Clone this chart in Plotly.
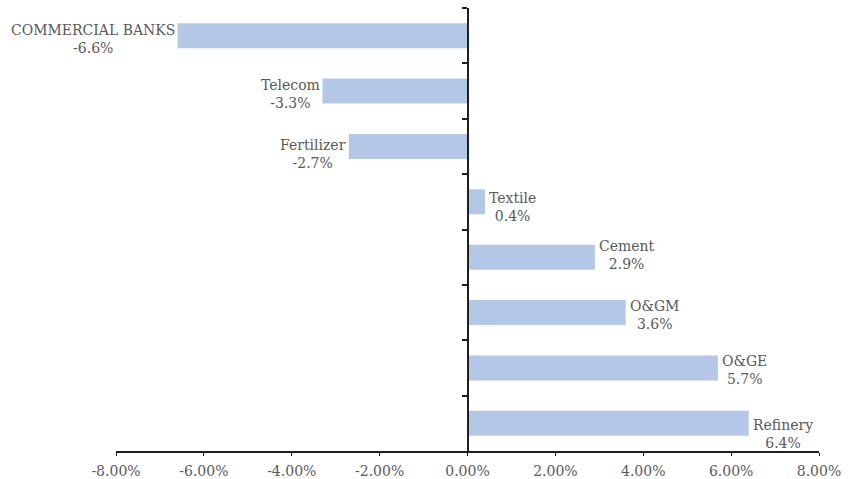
import plotly.graph_objects as go

# Sector returns (%)
sectors = ["COMMERCIAL BANKS", "Telecom", "Fertilizer", "Textile",
           "Cement", "O&GM", "O&GE", "Refinery"]
returns = [-6.6, -3.3, -2.7, 0.4, 2.9, 3.6, 5.7, 6.4]
x_ticks = [-8, -6, -4, -2, 0, 2, 4, 6, 8]
x_tick_labels = [f"{t:.2f}%" for t in x_ticks]

# Vertical nudge (px, downward) of each data label relative to its bar centre
label_nudge = [2, 1.5, 7, 4.5, -3, 1, 1.5, 9.5]

BAR = "#B4C7E7"
TXT = "#595959"
AX = "#1f1f1f"
FONT = "DejaVu Serif"

fig = go.Figure(go.Bar(
    x=returns,
    y=sectors,
    orientation="h",
    marker=dict(color=BAR, line=dict(width=0)),
    hoverinfo="skip",
))

# Two-line data labels just beyond each bar end
for s, v, dy in zip(sectors, returns, label_nudge):
    fig.add_annotation(
        x=v, y=s, xref="x", yref="y",
        text=f"{s}<br>{v:.1f}%",
        showarrow=False,
        xanchor="right" if v < 0 else "left",
        yanchor="middle",
        xshift=-1 if v < 0 else 2,
        yshift=-dy - 1,
        align="center",
        font=dict(family=FONT, size=14, color=TXT),
    )

fig.update_layout(
    width=850, height=479,
    margin=dict(l=116, r=31, t=8, b=28, autoexpand=False),
    paper_bgcolor="white",
    plot_bgcolor="white",
    bargap=0.55,
    showlegend=False,
    font=dict(family=FONT, size=14, color=TXT),
    xaxis=dict(
        range=[-8, 8],
        tickvals=x_ticks,
        ticktext=x_tick_labels,
        automargin=False,
        showgrid=False,
        zeroline=False,
        showline=True,
        linecolor=AX,
        linewidth=2,
        ticks="outside",
        ticklen=3,
        tickcolor=AX,
        tickwidth=1,
        ticklabelstandoff=3,
        tickfont=dict(family=FONT, size=14, color=TXT),
    ),
    yaxis=dict(
        categoryorder="array",
        categoryarray=sectors,
        autorange="reversed",
        anchor="free",
        position=0.5,
        automargin=False,
        showline=True,
        linecolor=AX,
        linewidth=2,
        ticks="outside",
        tickson="boundaries",
        ticklen=5,
        tickcolor=AX,
        tickwidth=2,
        showticklabels=False,
        showgrid=False,
        zeroline=False,
    ),
)

fig.write_html("out.html")
